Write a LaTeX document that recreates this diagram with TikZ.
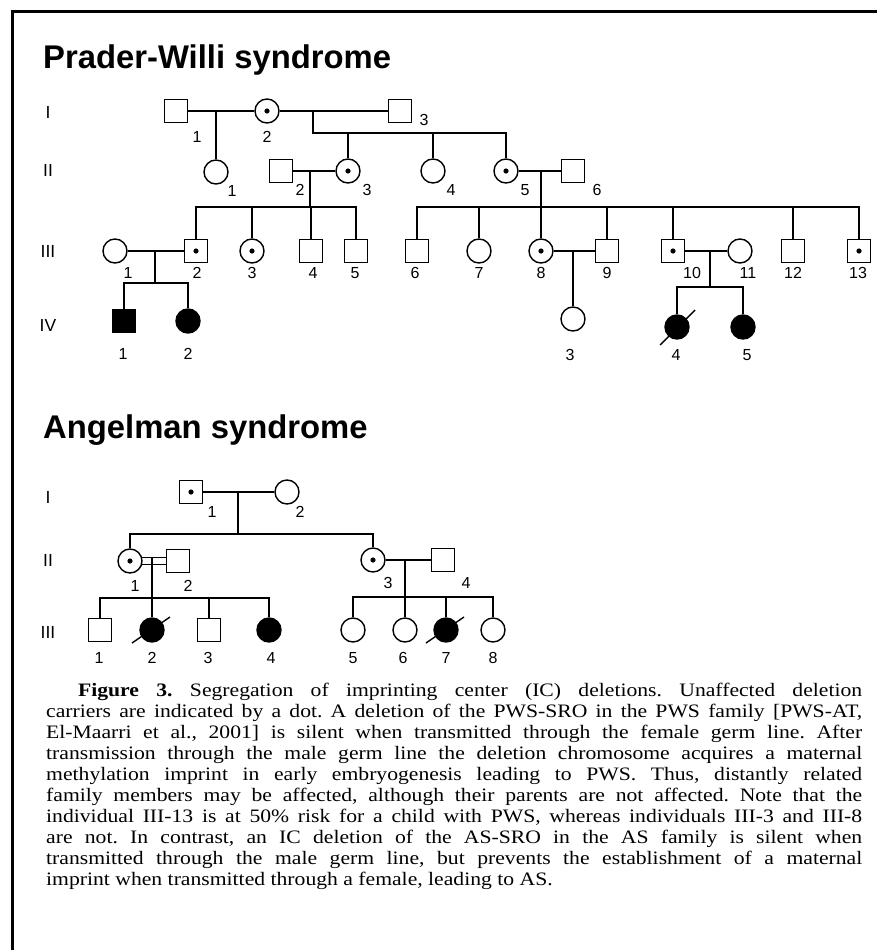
\documentclass[tikz,border=0pt]{standalone}
\usepackage{fontspec}
\setmainfont{Liberation Serif}
\newfontfamily\arialf{Liberation Sans}
\usepackage{graphicx}
\newlength{\capw}\setlength{\capw}{715.8pt}
\newcommand{\capln}[1]{\hbox to \capw{#1}}
\begin{document}
\begin{tikzpicture}[x=1pt,y=-1pt,
  ped/.style={line width=1.4pt},
  male/.style={draw, line width=1.4pt, rectangle, minimum size=23pt, inner sep=0pt},
  female/.style={draw, line width=1.4pt, circle, minimum size=24pt, inner sep=0pt},
  carrier/.style={path picture={\fill (path picture bounding box.center) circle (2.6pt);}},
  affected/.style={fill=black},
  num/.style={font=\arialf\fontsize{16}{16}\selectfont, inner sep=0pt},
  gen/.style={font=\arialf\fontsize{17.5}{17.5}\selectfont, inner sep=0pt},
  ttl/.style={font=\arialf\bfseries\fontsize{32.8}{33}\selectfont, inner sep=0pt, anchor=base west},
  slash/.style={line width=1.4pt}
]
\useasboundingbox (0,0) rectangle (877,950);
\fill[white] (0,0) rectangle (877,950);
\draw[line width=3pt] (877,12) -- (12,12) -- (12,950);

% ================= Prader-Willi =================
\node[ttl] (t1) at (43,68) {Prader-Willi syndrome};
\node[gen] (gI) at (48,112) {I};
\node[gen] (gII) at (48,170) {II};
\node[gen] (gIII) at (48,251) {III};
\node[gen] (gIV) at (48,325) {IV};

% generation I
\node[male] (pI1) at (176,111) {};
\node[female,carrier] (pI2) at (267,111) {};
\node[male] (pI3) at (400,111) {};
\node[num] (lpI1) at (197,137) {1};
\node[num] (lpI2) at (267,137) {2};
\node[num] (lpI3) at (424,120) {3};

% generation II
\node[female] (pII1) at (216,172) {};
\node[male] (pII2) at (281,171) {};
\node[female,carrier] (pII3) at (348,171) {};
\node[female] (pII4) at (433,171) {};
\node[female,carrier] (pII5) at (506,171) {};
\node[male] (pII6) at (573,171) {};
\node[num] (lpII1) at (232,191) {1};
\node[num] (lpII2) at (300,190) {2};
\node[num] (lpII3) at (367,190) {3};
\node[num] (lpII4) at (451,190) {4};
\node[num] (lpII5) at (525,190) {5};
\node[num] (lpII6) at (597,190) {6};

% generation III
\node[female] (pIII1) at (115,251) {};
\node[male,carrier] (pIII2) at (196,251) {};
\node[female,carrier] (pIII3) at (252,251) {};
\node[male] (pIII4) at (311,251) {};
\node[male] (pIII5) at (356,251) {};
\node[male] (pIII6) at (417,251) {};
\node[female] (pIII7) at (479,251) {};
\node[female,carrier] (pIII8) at (541,251) {};
\node[male] (pIII9) at (607,251) {};
\node[male,carrier] (pIII10) at (673,251) {};
\node[female] (pIII11) at (740,251) {};
\node[male] (pIII12) at (793,251) {};
\node[male,carrier] (pIII13) at (859,251) {};
\node[num] (lpIII1) at (128,273) {1};
\node[num] (lpIII2) at (197,273) {2};
\node[num] (lpIII3) at (252,273) {3};
\node[num] (lpIII4) at (313,273) {4};
\node[num] (lpIII5) at (355,273) {5};
\node[num] (lpIII6) at (415,273) {6};
\node[num] (lpIII7) at (479,273) {7};
\node[num] (lpIII8) at (541,273) {8};
\node[num] (lpIII9) at (607,273) {9};
\node[num] (lpIII10) at (692,273) {10};
\node[num] (lpIII11) at (748,273) {11};
\node[num] (lpIII12) at (793,273) {12};
\node[num] (lpIII13) at (858,273) {13};

% generation IV
\node[male,affected] (pIV1) at (124,321) {};
\node[female,affected] (pIV2) at (188,321) {};
\node[female] (pIV3) at (573,319) {};
\node[female,affected] (pIV4) at (677,327) {};
\node[female,affected] (pIV5) at (743,327) {};
\node[num] (lpIV1) at (123,354) {1};
\node[num] (lpIV2) at (188,354) {2};
\node[num] (lpIV3) at (570,355) {3};
\node[num] (lpIV4) at (676,355) {4};
\node[num] (lpIV5) at (747,355) {5};

% connectors PWS
\draw[ped] (pI1) -- (pI2);
\draw[ped] (pI2) -- (pI3);
\coordinate (mA) at (216,111);
\draw[ped] (mA) -- (pII1);
\coordinate (mB) at (313,111);
\coordinate (sB) at (313,133);
\draw[ped] (mB) -- (sB) -| (pII5);
\draw[ped] (sB -| pII3) -- (pII3);
\draw[ped] (sB -| pII4) -- (pII4);

\draw[ped] (pII2) -- (pII3);
\coordinate (mC) at (310,171);
\coordinate (sC) at (310,207);
\draw[ped] (mC) -- (sC);
\draw[ped] (pIII2) |- (sC) -| (pIII5);
\draw[ped] (sC -| pIII3) -- (pIII3);
\draw[ped] (sC -| pIII4) -- (pIII4);

\draw[ped] (pII5) -- (pII6);
\coordinate (mD) at (541,171);
\coordinate (sD) at (541,207);
\draw[ped] (mD) -- (pIII8);
\draw[ped] (pIII6) |- (sD) -| (pIII13);
\draw[ped] (sD -| pIII7) -- (pIII7);
\draw[ped] (sD -| pIII9) -- (pIII9);
\draw[ped] (sD -| pIII10) -- (pIII10);
\draw[ped] (sD -| pIII12) -- (pIII12);

\draw[ped] (pIII1) -- (pIII2);
\coordinate (mE) at (155,251);
\coordinate (sE) at (155,283);
\draw[ped] (mE) -- (sE);
\draw[ped] (pIV1) |- (sE) -| (pIV2);

\draw[ped] (pIII8) -- (pIII9);
\coordinate (mF) at (573,251);
\draw[ped] (mF) -- (pIV3);

\draw[ped] (pIII10) -- (pIII11);
\coordinate (mG) at (710,251);
\coordinate (sG) at (710,287);
\draw[ped] (mG) -- (sG);
\draw[ped] (pIV4) |- (sG) -| (pIV5);

\draw[slash] ([shift={(-17,18)}]pIV4.center) -- ([shift={(18,-17)}]pIV4.center);

% ================= Angelman =================
\node[ttl] (t2) at (43,438) {Angelman syndrome};
\node[gen] (gaI) at (48,497) {I};
\node[gen] (gaII) at (48,560) {II};
\node[gen] (gaIII) at (48,632) {III};

\node[male,carrier] (aI1) at (191,492) {};
\node[female] (aI2) at (287,492) {};
\node[num] (laI1) at (212,512) {1};
\node[num] (laI2) at (300,512) {2};

\node[female,carrier] (aII1) at (130,561) {};
\node[male] (aII2) at (178,561) {};
\node[female,carrier] (aII3) at (373,560) {};
\node[male] (aII4) at (443,560) {};
\node[num] (laII1) at (135,586) {1};
\node[num] (laII2) at (188,586) {2};
\node[num] (laII3) at (388,583) {3};
\node[num] (laII4) at (466,583) {4};

\node[male] (aIII1) at (100,630) {};
\node[female,affected] (aIII2) at (152,630) {};
\node[male] (aIII3) at (209,630) {};
\node[female,affected] (aIII4) at (269,630) {};
\node[female] (aIII5) at (353,630) {};
\node[female] (aIII6) at (405,630) {};
\node[female,affected] (aIII7) at (446,630) {};
\node[female] (aIII8) at (493,630) {};
\node[num] (laIII1) at (99,658) {1};
\node[num] (laIII2) at (152,658) {2};
\node[num] (laIII3) at (208,658) {3};
\node[num] (laIII4) at (271,658) {4};
\node[num] (laIII5) at (353,658) {5};
\node[num] (laIII6) at (403,658) {6};
\node[num] (laIII7) at (446,658) {7};
\node[num] (laIII8) at (493,658) {8};

\draw[ped] (aI1) -- (aI2);
\coordinate (mH) at (238,492);
\coordinate (sH) at (238,534);
\draw[ped] (mH) -- (sH);
\draw[ped] (aII1) |- (sH) -| (aII3);

\draw[ped] (aII1.17) -- (aII1.17 -| aII2.west);
\draw[ped] (aII1.-17) -- (aII1.-17 -| aII2.west);
\coordinate (mI) at (152,557.5);
\coordinate (sI) at (152,598);
\draw[ped] (mI) -- (aIII2);
\draw[ped] (aIII1) |- (sI) -| (aIII4);
\draw[ped] (sI -| aIII3) -- (aIII3);

\draw[ped] (aII3) -- (aII4);
\coordinate (mJ) at (405,560);
\coordinate (sJ) at (405,597);
\draw[ped] (mJ) -- (aIII6);
\draw[ped] (aIII5) |- (sJ) -| (aIII8);
\draw[ped] (sJ -| aIII7) -- (aIII7);

\draw[slash] ([shift={(-20,13)}]aIII2.center) -- ([shift={(18,-13)}]aIII2.center);
\draw[slash] ([shift={(-20,13)}]aIII7.center) -- ([shift={(18,-13)}]aIII7.center);

% ================= caption =================
\node[anchor=base west, inner sep=0pt] (cap) at (46,696) {\scalebox{1.14}[1]{\vtop{\fontsize{19}{21.1}\selectfont\frenchspacing
\capln{\hspace*{28pt}\textbf{Figure 3.}\hspace{0.8em}Segregation of imprinting center (IC) deletions. Unaffected deletion}
\capln{carriers are indicated by a dot. A deletion of the PWS-SRO in the PWS family [PWS-AT,}
\capln{El-Maarri et al., 2001] is silent when transmitted through the female germ line. After}
\capln{transmission through the male germ line the deletion chromosome acquires a maternal}
\capln{methylation imprint in early embryogenesis leading to PWS. Thus, distantly related}
\capln{family members may be affected, although their parents are not affected. Note that the}
\capln{individual III-13 is at 50\% risk for a child with PWS, whereas individuals III-3 and III-8}
\capln{are not. In contrast, an IC deletion of the AS-SRO in the AS family is silent when}
\capln{transmitted through the male germ line, but prevents the establishment of a maternal}
\capln{imprint when transmitted through a female, leading to AS.\hfil}
}}};
\end{tikzpicture}
\end{document}
